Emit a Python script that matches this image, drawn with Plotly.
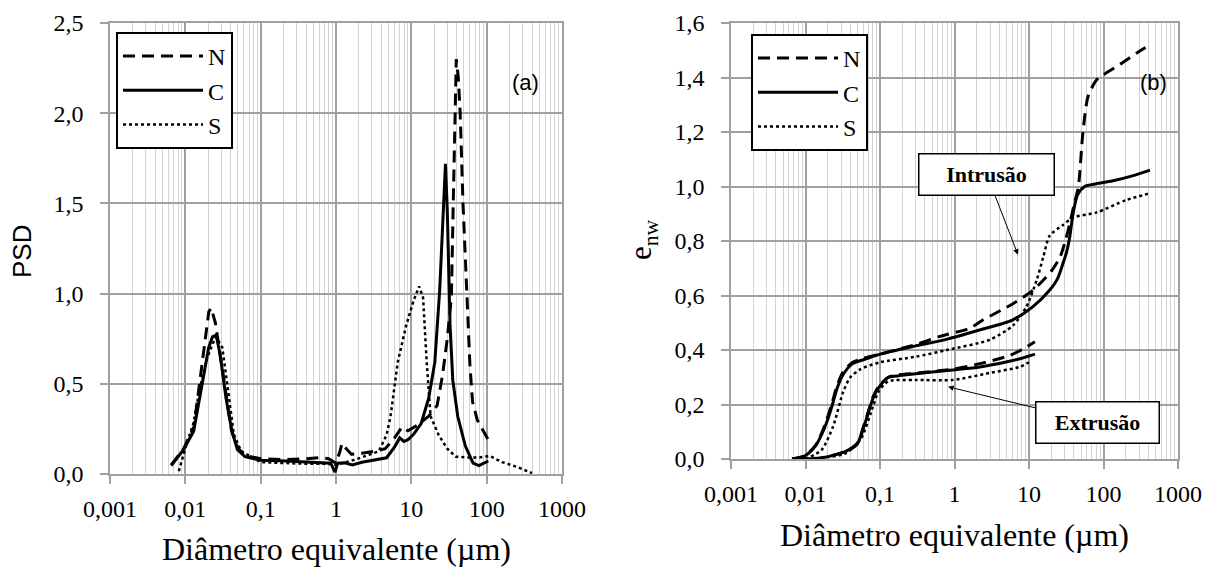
import numpy as np
import plotly.graph_objects as go

W, H = 1219, 568

# ---------- (a) pore size density ----------
d_psd_N = [0.0065, 0.0095, 0.013, 0.0155, 0.018, 0.0205, 0.022, 0.025, 0.029, 0.035, 0.041,
           0.05, 0.065, 0.1, 0.2, 0.4, 0.6, 0.8, 1.0, 1.12, 1.2, 1.3, 1.6, 2.2, 3.2, 4.5, 6.0,
           7.5, 9.0, 12, 17, 22, 26, 30, 34, 36, 38, 39.5, 42, 44.5, 48.5, 55, 60, 65, 75, 90, 105]
psd_N = [0.05, 0.14, 0.26, 0.5, 0.72, 0.9, 0.92, 0.84, 0.66, 0.42, 0.24,
         0.14, 0.1, 0.085, 0.08, 0.085, 0.09, 0.085, 0.06, 0.12, 0.17, 0.15, 0.11, 0.115, 0.125, 0.14, 0.2,
         0.26, 0.24, 0.27, 0.32, 0.38, 0.55, 0.75, 0.98, 1.5, 2.1, 2.3, 2.2, 2.0, 1.5, 0.93, 0.6, 0.4, 0.3, 0.24, 0.19]

d_psd_C = [0.0065, 0.0095, 0.0129, 0.0153, 0.0172, 0.0204, 0.0229, 0.0257, 0.029, 0.0347, 0.0414,
           0.049, 0.062, 0.1, 0.22, 0.4, 0.7, 0.85, 0.97, 1.05, 1.3, 1.65, 2.2, 3.0, 4.7, 6.0, 7.0,
           8.0, 9.0, 10.7, 13.5, 17, 20.5, 23.8, 26.8, 28.4, 30, 32.7, 35.5, 41.3, 52, 66, 79, 105]
psd_C = [0.046, 0.136, 0.237, 0.417, 0.518, 0.70, 0.76, 0.77, 0.66, 0.42, 0.24,
         0.136, 0.096, 0.076, 0.072, 0.068, 0.064, 0.06, 0.01, 0.06, 0.062, 0.05, 0.065, 0.075, 0.09, 0.15, 0.2,
         0.18, 0.19, 0.22, 0.28, 0.42, 0.62, 1.02, 1.46, 1.72, 1.46, 0.82, 0.52, 0.32, 0.156, 0.06, 0.046, 0.072]

d_psd_S = [0.0082, 0.0102, 0.0128, 0.0153, 0.0194, 0.023, 0.0257, 0.031, 0.037, 0.044, 0.055,
           0.1, 0.3, 0.8, 1.0, 1.8, 3.7, 4.7, 5.3, 6.6, 8.5, 10.7, 12.7, 14.3, 16, 18, 23,
           30, 39, 55, 80, 110, 160, 250, 400]
psd_S = [0.016, 0.156, 0.28, 0.46, 0.64, 0.72, 0.76, 0.70, 0.46, 0.22, 0.126,
         0.066, 0.058, 0.056, 0.05, 0.08, 0.126, 0.217, 0.32, 0.62, 0.82, 0.96, 1.04, 0.98, 0.62, 0.32, 0.217,
         0.14, 0.096, 0.092, 0.092, 0.1, 0.066, 0.04, 0.005]

# ---------- (b) cumulative void ratio, intrusion ----------
d_int_N = [0.0066, 0.01, 0.0136, 0.0165, 0.0196, 0.023, 0.0266, 0.032, 0.043, 0.06, 0.1, 0.3, 0.64,
           1.6, 2.4, 6.1, 11.4, 20, 26, 30, 35, 40, 46, 53, 62, 80, 100, 170, 280, 420]
e_int_N = [0.0, 0.013, 0.05, 0.095, 0.15, 0.21, 0.27, 0.32, 0.355, 0.37, 0.385, 0.42, 0.45,
           0.48, 0.51, 0.57, 0.62, 0.69, 0.74, 0.79, 0.86, 0.93, 1.0, 1.2, 1.33, 1.39, 1.41, 1.45, 1.49, 1.52]

d_int_C = [0.0066, 0.01, 0.0136, 0.0165, 0.0196, 0.023, 0.0266, 0.032, 0.043, 0.07, 0.1, 0.3, 0.8,
           2.2, 6.0, 11.4, 19, 24, 28, 32, 35, 39, 45, 56, 80, 130, 250, 420]
e_int_C = [0.0, 0.013, 0.047, 0.09, 0.14, 0.2, 0.26, 0.31, 0.35, 0.37, 0.385, 0.415, 0.44,
           0.474, 0.51, 0.56, 0.62, 0.66, 0.71, 0.76, 0.81, 0.90, 0.97, 1.0, 1.01, 1.02, 1.04, 1.06]

d_int_S = [0.01, 0.0164, 0.0235, 0.032, 0.04, 0.055, 0.1, 0.3, 0.79, 3.0, 6.1, 9.3, 12.8, 15.5,
           19, 28, 39, 81, 200, 420]
e_int_S = [0.0, 0.033, 0.12, 0.246, 0.30, 0.33, 0.355, 0.375, 0.40, 0.438, 0.49, 0.56, 0.66, 0.74,
           0.82, 0.857, 0.886, 0.905, 0.95, 0.975]

# ---------- (b) extrusion ----------
d_ext_N = [0.007, 0.0164, 0.034, 0.049, 0.062, 0.08, 0.095, 0.13, 0.19, 0.3, 0.95, 2.2, 5.5, 8.5, 12]
e_ext_N = [0.0, 0.004, 0.028, 0.056, 0.13, 0.225, 0.265, 0.3, 0.31, 0.315, 0.33, 0.35, 0.38, 0.405, 0.43]

d_ext_C = [0.007, 0.0164, 0.034, 0.049, 0.062, 0.08, 0.095, 0.13, 0.186, 0.3, 0.95, 2.2, 5.1, 8.0, 12]
e_ext_C = [0.0, 0.004, 0.027, 0.053, 0.126, 0.22, 0.26, 0.30, 0.306, 0.313, 0.327, 0.338, 0.357, 0.37, 0.385]

d_ext_S = [0.011, 0.034, 0.055, 0.08, 0.095, 0.129, 0.3, 0.94, 3.0, 7.5, 10]
e_ext_S = [0.0, 0.02, 0.073, 0.19, 0.246, 0.285, 0.29, 0.29, 0.316, 0.338, 0.355]

# ---------- axis ticks ----------
x_tickvals = [0.001, 0.01, 0.1, 1, 10, 100, 1000]
x_ticktext = ["0,001", "0,01", "0,1", "1", "10", "100", "1000"]
x_minor = [k * 10.0 ** p for p in range(-3, 3) for k in range(2, 10)]
y1_tickvals = [0, 0.5, 1.0, 1.5, 2.0, 2.5]
y1_ticktext = ["0,0", "0,5", "1,0", "1,5", "2,0", "2,5"]
y2_tickvals = [0, 0.2, 0.4, 0.6, 0.8, 1.0, 1.2, 1.4, 1.6]
y2_ticktext = ["0,0", "0,2", "0,4", "0,6", "0,8", "1,0", "1,2", "1,4", "1,6"]

SERIF = "Liberation Serif, Times New Roman, serif"
SANS = "Liberation Sans, Arial, sans-serif"

series = ["N", "C", "S"]
styles = {
    "N": dict(color="black", width=3, dash="12px,7px"),
    "C": dict(color="black", width=3),
    "S": dict(color="black", width=2.5, dash="3px,3px"),
}

fig = go.Figure()

psd = {"N": (d_psd_N, psd_N), "C": (d_psd_C, psd_C), "S": (d_psd_S, psd_S)}
for s in series:
    fig.add_trace(go.Scatter(x=psd[s][0], y=psd[s][1], mode="lines", name=s,
                             line=styles[s], xaxis="x", yaxis="y", legend="legend"))

intr = {"N": (d_int_N, e_int_N), "C": (d_int_C, e_int_C), "S": (d_int_S, e_int_S)}
extr = {"N": (d_ext_N, e_ext_N), "C": (d_ext_C, e_ext_C), "S": (d_ext_S, e_ext_S)}
for s in series:
    fig.add_trace(go.Scatter(x=intr[s][0], y=intr[s][1], mode="lines", name=s,
                             line=dict(shape="spline", smoothing=0.7, **styles[s]),
                             xaxis="x2", yaxis="y2", legend="legend2"))
for s in series:
    fig.add_trace(go.Scatter(x=extr[s][0], y=extr[s][1], mode="lines", name=s,
                             line=dict(shape="spline", smoothing=0.7, **styles[s]),
                             xaxis="x2", yaxis="y2", legend="legend2", showlegend=False))

GRID = "#a0a0a0"
MINOR = "#d3d3d3"
tickfont = dict(family=SERIF, size=24, color="black")


def xaxis(domain, anchor):
    return dict(type="log", range=[-3, 3], domain=domain, anchor=anchor,
                tickvals=x_tickvals, ticktext=x_ticktext, tickfont=tickfont,
                showgrid=True, gridcolor=GRID, gridwidth=1.5,
                minor=dict(tickvals=x_minor, showgrid=True, gridcolor=MINOR, gridwidth=1, ticks=""),
                ticks="outside", ticklen=8, tickwidth=1.5, tickcolor=GRID,
                showline=True, linecolor=GRID, linewidth=1.5, mirror=True,
                zeroline=False, ticklabelstandoff=4, automargin=False)


def yaxis(domain, anchor, rng, vals, text):
    return dict(range=rng, domain=domain, anchor=anchor, tickvals=vals, ticktext=text,
                tickfont=tickfont, showgrid=True, gridcolor=GRID, gridwidth=1.5,
                ticks="outside", ticklen=8, tickwidth=1.5, tickcolor=GRID,
                showline=True, linecolor=GRID, linewidth=1.5, mirror=True,
                zeroline=False, ticklabelstandoff=12, automargin=False)


def px(x):
    return x / W


def py(y):
    return 1 - y / H


legend_style = dict(xanchor="left", yanchor="top", bgcolor="white", bordercolor="black",
                    borderwidth=2, font=dict(family=SERIF, size=24, color="black"),
                    itemwidth=80, tracegroupgap=0)

fig.update_layout(
    width=W, height=H, margin=dict(l=0, r=0, t=0, b=0),
    paper_bgcolor="white", plot_bgcolor="white",
    xaxis=xaxis([px(110), px(562)], "y"),
    yaxis=yaxis([py(474), py(23)], "x", [0, 2.5], y1_tickvals, y1_ticktext),
    xaxis2=xaxis([px(731), px(1178)], "y2"),
    yaxis2=yaxis([py(459), py(23)], "x2", [0, 1.6], y2_tickvals, y2_ticktext),
    legend=dict(x=px(116), y=py(32), **legend_style),
    legend2=dict(x=px(751), y=py(34), **legend_style),
    showlegend=True,
)

serif_title = dict(family=SERIF, size=32, color="black")
annotations = [
    dict(text="PSD", x=px(22), y=py(252), textangle=-90,
         font=dict(family=SANS, size=26, color="black")),
    dict(text="Diâmetro equivalente (µm)", x=px(336), y=py(549), font=serif_title),
    dict(text="Diâmetro equivalente (µm)", x=px(955), y=py(535), font=serif_title),
    dict(text="e<sub>nw</sub>", x=px(643), y=py(240), textangle=-90,
         font=dict(family=SERIF, size=31, color="black")),
    dict(text="(a)", x=px(525), y=py(83), font=dict(family=SANS, size=22, color="black")),
    dict(text="(b)", x=px(1153), y=py(82), font=dict(family=SANS, size=22, color="black")),
]
for a in annotations:
    a.update(xref="paper", yref="paper", xanchor="center", yanchor="middle", showarrow=False)
fig.update_layout(annotations=annotations)

box_font = dict(family=SERIF, size=22, color="black")
box_style = dict(xref="x2", yref="y2", font=box_font, bgcolor="white", bordercolor="black",
                 borderwidth=1.5, borderpad=2, height=36, showarrow=True, arrowhead=2,
                 arrowsize=1.1, arrowwidth=1, arrowcolor="black", axref="pixel", ayref="pixel")
# labelled boxes for the two branches of panel (b), each pointing at its curves
fig.add_annotation(text="<b>Intrusão</b>", x=np.log10(7.1), y=0.75, ax=-31, ay=-80,
                   width=130, **box_style)
fig.add_annotation(text="<b>Extrusão</b>", x=np.log10(0.82), y=0.265, ax=149, ay=36,
                   width=118, **box_style)

fig.write_html("out.html")
